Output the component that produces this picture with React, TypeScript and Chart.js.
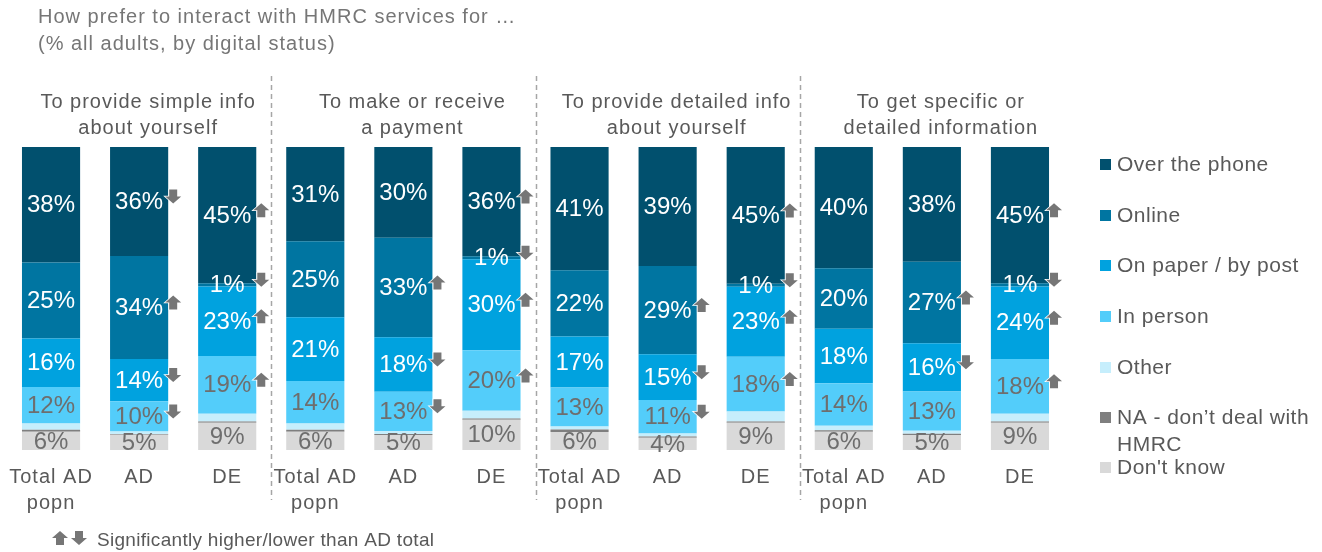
import React, { useEffect, useRef } from "react";
import { Chart, registerables } from "chart.js";

Chart.register(...registerables);

// ---------- data ----------
const categories: string[][] = [
  ["Total AD", "popn"], ["AD"], ["DE"],
  ["Total AD", "popn"], ["AD"], ["DE"],
  ["Total AD", "popn"], ["AD"], ["DE"],
  ["Total AD", "popn"], ["AD"], ["DE"],
];
const groupTitles: string[][] = [
  ["To provide simple info", "about yourself"],
  ["To make or receive", "a payment"],
  ["To provide detailed info", "about yourself"],
  ["To get specific or", "detailed information"],
];
const chartTitle = ["How prefer to interact with HMRC services for …", "(% all adults, by digital status)"];
const footnote = "Significantly higher/lower than AD total";

const phone = [38, 36, 45, 31, 30, 36, 41, 39, 45, 40, 38, 45];
const online = [25, 34, 1, 25, 33, 1, 22, 29, 1, 20, 27, 1];
const paper = [16, 14, 23, 21, 18, 30, 17, 15, 23, 18, 16, 24];
const person = [12, 10, 19, 14, 13, 20, 13, 11, 18, 14, 13, 18];
const other = [2, 0.8, 2.6, 2, 1, 2.5, 1, 1, 3.3, 1.5, 1, 2.6];
const notDeal = [0.7, 0.3, 0.4, 0.7, 0.3, 0.4, 0.8, 0.4, 0.4, 0.5, 0.4, 0.4];
const dontKnow = [6, 5, 9, 6, 5, 10, 6, 4, 9, 6, 5, 9];

// significance: "u" higher, "d" lower, "" none
const sigPhone = ["", "d", "u", "", "", "u", "", "", "u", "", "", "u"];
const sigOnline = ["", "u", "d", "", "u", "d", "", "u", "d", "", "u", "d"];
const sigPaper = ["", "d", "u", "", "d", "u", "", "d", "u", "", "d", "u"];
const sigPerson = ["", "d", "u", "", "d", "u", "", "d", "u", "", "", "u"];
const sigNone = ["", "", "", "", "", "", "", "", "", "", "", ""];

type Series = {
  name: string;
  values: number[];
  color: string;
  labelColor: string | null;
  sig: string[];
};

// bottom to top
const series: Series[] = [
  { name: "Don't know", values: dontKnow, color: "#D9D9D9", labelColor: "#6E6E6E", sig: sigNone },
  { name: "NA - don’t deal with\nHMRC", values: notDeal, color: "#7F7F7F", labelColor: null, sig: sigNone },
  { name: "Other", values: other, color: "#C6EEFC", labelColor: null, sig: sigNone },
  { name: "In person", values: person, color: "#53CDFA", labelColor: "#6E6E6E", sig: sigPerson },
  { name: "On paper / by post", values: paper, color: "#00A2DF", labelColor: "#FFFFFF", sig: sigPaper },
  { name: "Online", values: online, color: "#0075A1", labelColor: "#FFFFFF", sig: sigOnline },
  { name: "Over the phone", values: phone, color: "#01506E", labelColor: "#FFFFFF", sig: sigPhone },
];

const totals = categories.map((_, i) => series.reduce((s, d) => s + d.values[i], 0));

const FONT = "Arial, 'Liberation Sans', sans-serif";
const TEXT = "#595959";
const ARROW = "#767676";

function drawArrow(ctx: CanvasRenderingContext2D, x: number, yTop: number, dir: string) {
  const w = 16, h = 14, headH = 7, stemW = 8;
  const cx = x + w / 2;
  ctx.beginPath();
  if (dir === "u") {
    ctx.moveTo(cx, yTop);
    ctx.lineTo(x + w, yTop + headH);
    ctx.lineTo(cx + stemW / 2, yTop + headH);
    ctx.lineTo(cx + stemW / 2, yTop + h);
    ctx.lineTo(cx - stemW / 2, yTop + h);
    ctx.lineTo(cx - stemW / 2, yTop + headH);
    ctx.lineTo(x, yTop + headH);
  } else {
    ctx.moveTo(cx - stemW / 2, yTop);
    ctx.lineTo(cx + stemW / 2, yTop);
    ctx.lineTo(cx + stemW / 2, yTop + h - headH);
    ctx.lineTo(x + w, yTop + h - headH);
    ctx.lineTo(cx, yTop + h);
    ctx.lineTo(x, yTop + h - headH);
    ctx.lineTo(cx - stemW / 2, yTop + h - headH);
  }
  ctx.closePath();
  ctx.lineWidth = 1.5;
  ctx.strokeStyle = "#FFFFFF";
  ctx.stroke();
  ctx.fillStyle = ARROW;
  ctx.fill();
}

const overlay = {
  id: "overlay",
  afterDatasetsDraw(chart: any) {
    const ctx: CanvasRenderingContext2D = chart.ctx;
    const xs = chart.scales.x;
    ctx.save();
    (ctx as any).letterSpacing = "0px";

    // value labels and arrows
    series.forEach((s, di) => {
      if (!s.labelColor) return;
      const meta = chart.getDatasetMeta(di);
      meta.data.forEach((el: any, i: number) => {
        const props = el.getProps(["x", "y", "base", "width"], true);
        const cy = (props.y + props.base) / 2;
        ctx.font = `24px ${FONT}`;
        ctx.fillStyle = s.labelColor as string;
        ctx.textAlign = "center";
        ctx.textBaseline = "middle";
        ctx.fillText(`${Math.round(s.values[i])}%`, props.x, cy + 1);
        const sg = s.sig[i];
        if (sg) {
          const right = props.x + props.width / 2;
          drawArrow(ctx, right - 3, cy - 12, sg);
        }
      });
    });

    (ctx as any).letterSpacing = "1px";
    // dashed separators
    ctx.strokeStyle = "#A6A6A6";
    ctx.lineWidth = 1.5;
    ctx.setLineDash([5, 4]);
    for (let g = 1; g < groupTitles.length; g++) {
      const x = Math.round((xs.getPixelForValue(g * 3 - 1) + xs.getPixelForValue(g * 3)) / 2) + 0.5;
      ctx.beginPath();
      ctx.moveTo(x, 76);
      ctx.lineTo(x, 500);
      ctx.stroke();
    }
    ctx.setLineDash([]);

    // group titles
    ctx.font = `20px ${FONT}`;
    ctx.fillStyle = TEXT;
    ctx.textAlign = "center";
    ctx.textBaseline = "middle";
    groupTitles.forEach((lines, g) => {
      const cx = xs.getPixelForValue(g * 3 + 1) + 9;
      lines.forEach((t, li) => ctx.fillText(t, cx, 102 + li * 26));
    });

    // category labels
    categories.forEach((lines, i) => {
      const cx = xs.getPixelForValue(i);
      lines.forEach((t, li) => ctx.fillText(t, cx, 477 + li * 26));
    });

    // chart title
    ctx.textAlign = "left";
    ctx.fillStyle = "#767676";
    ctx.font = `20px ${FONT}`;
    (ctx as any).letterSpacing = "1px";
    chartTitle.forEach((t, li) => ctx.fillText(t, 38, 17 + li * 27));

    // legend (top to bottom)
    ctx.font = `21px ${FONT}`;
    (ctx as any).letterSpacing = "0.5px";
    const legendYs = [165, 216, 266, 317, 368, 418, 468];
    const legendOrder = [...series].reverse();
    legendOrder.forEach((s, k) => {
      const y = legendYs[k];
      ctx.fillStyle = s.color;
      ctx.fillRect(1100, y - 6, 11, 11);
      ctx.fillStyle = TEXT;
      s.name.split("\n").forEach((t, li) => ctx.fillText(t, 1117, y + li * 27));
    });

    // footnote
    drawArrow(ctx, 52, 531, "u");
    drawArrow(ctx, 71, 531, "d");
    ctx.fillStyle = TEXT;
    ctx.font = `19px ${FONT}`;
    (ctx as any).letterSpacing = "0.3px";
    ctx.fillText(footnote, 97, 541);

    ctx.restore();
  },
};

export default function App() {
  const ref = useRef<HTMLCanvasElement | null>(null);
  useEffect(() => {
    if (!ref.current) return;
    const chart = new Chart(ref.current, {
      type: "bar",
      data: {
        labels: categories,
        datasets: series.map((s) => ({
          label: s.name,
          data: s.values.map((v, i) => (v / totals[i]) * 100),
          backgroundColor: s.color,
          borderWidth: 0,
          barPercentage: 0.66,
          categoryPercentage: 1,
        })),
      },
      options: {
        animation: false,
        responsive: false,
        maintainAspectRatio: false,
        layout: { padding: { left: 7, right: 258, top: 147, bottom: 102 } },
        plugins: { legend: { display: false }, tooltip: { enabled: false }, title: { display: false } },
        scales: {
          x: { stacked: true, display: false },
          y: { stacked: true, display: false, min: 0, max: 100 },
        },
      },
      plugins: [overlay],
    });
    return () => chart.destroy();
  }, []);
  return (
    <div style={{ position: "absolute", left: 0, top: 0, width: 1322, height: 552, background: "#fff" }}>
      <canvas ref={ref} width={1322} height={552} style={{ width: 1322, height: 552, display: "block" }} />
    </div>
  );
}
